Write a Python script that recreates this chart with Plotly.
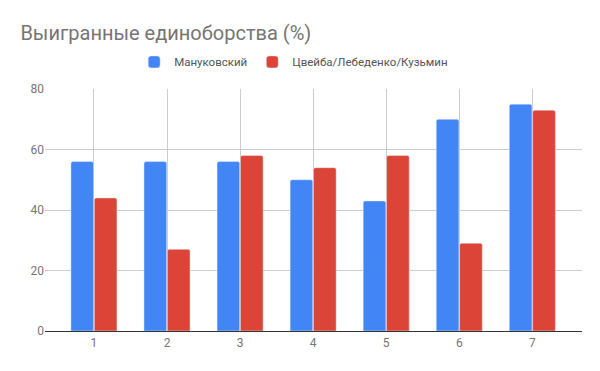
import plotly.graph_objects as go

categories = [1, 2, 3, 4, 5, 6, 7]
manukovsky = [56, 56, 56, 50, 43, 70, 75]
others = [44, 27, 58, 54, 58, 29, 73]
series_names = ["Мануковский", "Цвейба/Лебеденко/Кузьмин"]
y_ticks = [0, 20, 40, 60, 80]

fig = go.Figure()
fig.add_trace(go.Bar(x=categories, y=manukovsky, name=series_names[0],
                     marker=dict(color="#4285F4", cornerradius=2)))
fig.add_trace(go.Bar(x=categories, y=others, name=series_names[1],
                     marker=dict(color="#DB4437", cornerradius=2)))

fig.update_layout(
    width=600, height=371,
    margin=dict(l=45, r=18, t=89, b=40, autoexpand=False),
    paper_bgcolor="white", plot_bgcolor="white",
    font=dict(family="Roboto", color="#757575", size=12),
    title=dict(text="Выигранные единоборства (%)", x=0.034, xanchor="left",
               y=0.912, yanchor="middle",
               font=dict(size=20, color="#757575", family="Roboto")),
    barmode="group", bargap=0.36, bargroupgap=0.03,
    legend=dict(orientation="h", x=0.166, xanchor="left", y=1.112, yanchor="middle",
                font=dict(size=11.5, color="#555555"), itemclick=False),
    showlegend=True,
)
fig.update_xaxes(range=[0.33, 7.68], tickvals=categories, ticktext=[str(c) for c in categories],
                 showgrid=True, gridcolor="#CCCCCC", gridwidth=1, zeroline=False,
                 showline=False, ticks="", ticklabelstandoff=3,
                 tickfont=dict(color="#757575", size=12))
fig.update_yaxes(range=[0, 80], tickvals=y_ticks, showgrid=True, gridcolor="#CCCCCC",
                 zeroline=True, zerolinecolor="#333333", zerolinewidth=1,
                 showline=False, ticks="", tickfont=dict(color="#757575", size=12))

fig.write_html("out.html", config={"displayModeBar": False},
               post_script="document.body.style.margin='0';")
